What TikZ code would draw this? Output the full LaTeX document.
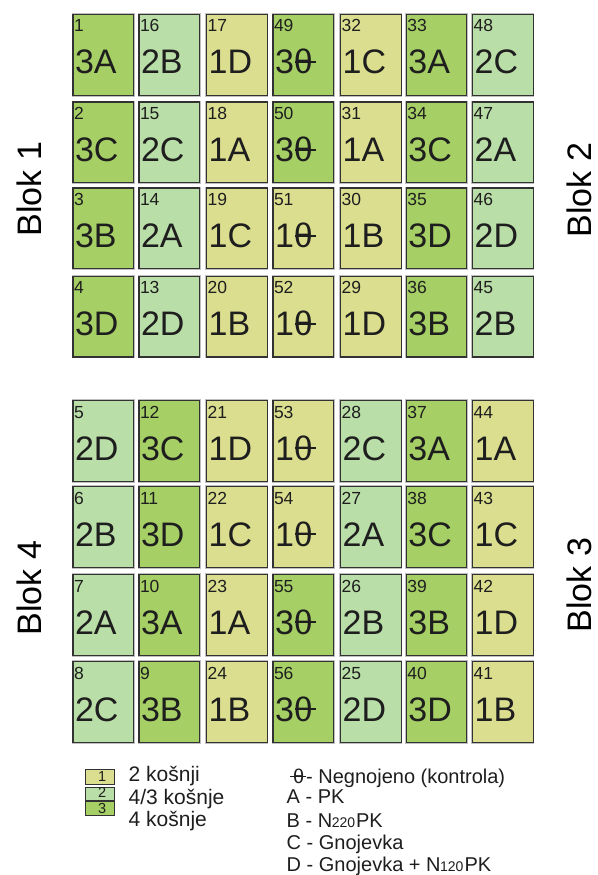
\documentclass[tikz,border=0pt]{standalone}
\usepackage{fontspec}
\setmainfont{Liberation Sans}
\definecolor{cyel}{RGB}{219,222,143}
\definecolor{clig}{RGB}{186,222,168}
\definecolor{cdar}{RGB}{166,208,102}
\definecolor{txt}{RGB}{30,30,30}
\definecolor{bord}{RGB}{50,50,50}
\newcommand{\zth}{\makebox[0pt][l]{\hspace{0.04em}\raisebox{0.31em}{\rule{0.62em}{0.065em}}}θ}
\newcommand{\smn}[1]{{\fontsize{14}{14}\selectfont\kern-0.5pt#1\kern1pt}}
\tikzset{
  cellbox/.style={draw=bord, line width=1.2pt, preaction={draw=black!25, line width=2.6pt},
    minimum width=60.5pt, minimum height=80.7pt, inner sep=0pt, anchor=north west},
  fyel/.style={fill=cyel}, flig/.style={fill=clig}, fdar/.style={fill=cdar},
  numtxt/.style={font=\fontsize{17.5}{17.5}\selectfont, text=txt, inner sep=0pt, anchor=base west},
  labtxt/.style={font=\fontsize{34}{34}\selectfont, text=txt, inner sep=0pt, anchor=base west},
  bloktxt/.style={font=\fontsize{34}{34}\selectfont, text=black, inner sep=0pt, rotate=90},
  legbox/.style={draw=bord, line width=0.9pt, inner sep=0pt, minimum width=29pt, anchor=north west},
  legnum/.style={font=\fontsize{14.5}{14.5}\selectfont, text=txt, inner sep=0pt, anchor=base east},
  legtxt/.style={font=\fontsize{21}{21}\selectfont, text=txt, inner sep=0pt, anchor=base west},
  keytxt/.style={font=\fontsize{20}{20}\selectfont, text=txt, inner sep=0pt, anchor=base west},
}
\begin{document}
\begin{tikzpicture}[x=1pt,y=-1pt]
\useasboundingbox (0,0) rectangle (597,875);
\def\colx{{72.3,138.3,206,272.3,340,405.7,472}}
\foreach \ty/\cells in {
  14/{1/3A/fdar,16/2B/flig,17/1D/fyel,49/3\zth/fdar,32/1C/fyel,33/3A/fdar,48/2C/flig},
  101.3/{2/3C/fdar,15/2C/flig,18/1A/fyel,50/3\zth/fdar,31/1A/fyel,34/3C/fdar,47/2A/flig},
  187.3/{3/3B/fdar,14/2A/flig,19/1C/fyel,51/1\zth/fyel,30/1B/fyel,35/3D/fdar,46/2D/flig},
  275.7/{4/3D/fdar,13/2D/flig,20/1B/fyel,52/1\zth/fyel,29/1D/fyel,36/3B/fdar,45/2B/flig},
  400/{5/2D/flig,12/3C/fdar,21/1D/fyel,53/1\zth/fyel,28/2C/flig,37/3A/fdar,44/1A/fyel},
  486/{6/2B/flig,11/3D/fdar,22/1C/fyel,54/1\zth/fyel,27/2A/flig,38/3C/fdar,43/1C/fyel},
  574/{7/2A/flig,10/3A/fdar,23/1A/fyel,55/3\zth/fdar,26/2B/flig,39/3B/fdar,42/1D/fyel},
  661/{8/2C/flig,9/3B/fdar,24/1B/fyel,56/3\zth/fdar,25/2D/flig,40/3D/fdar,41/1B/fyel}}{
  \foreach \n/\lab/\c [count=\i from 0] in \cells {
    \pgfmathsetmacro\xl{\colx[\i]}
    \node[cellbox,\c] (p\n) at (\xl,\ty) {};
    \node[numtxt] (p\n n) at ([xshift=1.5pt,yshift=-18pt]p\n.north west) {\n};
    \node[labtxt] (p\n l) at ([xshift=2.5pt,yshift=-60pt]p\n.north west) {\lab};
  }
}
\node[bloktxt] (b1) at (29,189) {Blok 1};
\node[bloktxt] (b2) at (579,190) {Blok 2};
\node[bloktxt] (b3) at (579,585) {Blok 3};
\node[bloktxt] (b4) at (29,588) {Blok 4};
% legend boxes
\node[legbox,fill=cyel,minimum height=15pt] (l1) at (85,769.3) {};
\node[legbox,fill=clig,minimum height=13.3pt] (l2) at (85,786.7) {};
\node[legbox,fill=cdar,minimum height=14.3pt] (l3) at (85,801) {};
\node[legnum] (l1n) at (106.5,781) {1};
\node[legnum] (l2n) at (106.5,797.5) {2};
\node[legnum] (l3n) at (106.5,813) {3};
\node[legtxt] (t1) at (128.5,781.7) {2 košnji};
\node[legtxt] (t2) at (128.5,804) {4/3 košnje};
\node[legtxt] (t3) at (128.5,826) {4 košnje};
% treatments
\node[keytxt] (k0) at (290,783.3) {\makebox[0.8em][l]{\makebox[0pt][l]{\raisebox{0.31em}{\rule{0.78em}{0.07em}}}\hspace{0.15em}θ}- Negnojeno (kontrola)};
\node[keytxt] (kA) at (286.5,803.3) {A - PK};
\node[keytxt] (kB) at (286.5,827.3) {B - N\smn{220}PK};
\node[keytxt] (kC) at (286.5,849) {C - Gnojevka};
\node[keytxt] (kD) at (286.5,871.7) {D - Gnojevka + N\smn{120}PK};
\end{tikzpicture}
\end{document}
